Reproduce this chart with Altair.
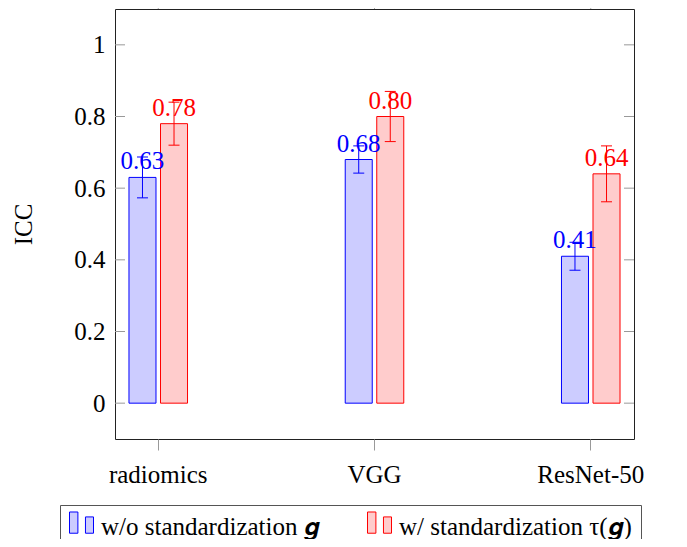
import altair as alt
import pandas as pd

categories = ["radiomics", "VGG", "ResNet-50"]
series = ["w/o standardization 𝒈", "w/ standardization τ(𝒈)"]
icc_wo = [0.63, 0.68, 0.41]
icc_w = [0.78, 0.80, 0.64]
err_wo = [0.057, 0.038, 0.039]
err_w = [0.060, 0.070, 0.078]
y_ticks = [0, 0.2, 0.4, 0.6, 0.8, 1]

rows = []
for i, c in enumerate(categories):
    rows.append(dict(cat=c, s=series[0], v=icc_wo[i], e=err_wo[i]))
    rows.append(dict(cat=c, s=series[1], v=icc_w[i], e=err_w[i]))
df = pd.DataFrame(rows)
df["lo"] = df["v"] - df["e"]
df["hi"] = df["v"] + df["e"]
cat_df = pd.DataFrame({"cat": categories})
tick_df = pd.DataFrame({"t": y_ticks})

FONT = "Liberation Serif"
FS = 25
W, H = 519, 430

x_scale = alt.Scale(domain=categories, paddingInner=0.6, paddingOuter=0.0)
xo_scale = alt.Scale(domain=series, paddingInner=0.143, paddingOuter=0.443)
y_scale = alt.Scale(domain=[-0.1, 1.1], nice=False, zero=False)
fill_scale = alt.Scale(domain=series, range=["#ccccff", "#ffcccc"])
stroke_scale = alt.Scale(domain=series, range=["#0000ff", "#ff0000"])

x_axis = alt.Axis(title=None, domain=False, grid=False, tickSize=11, tickColor="#999999",
                  labelFont=FONT, labelFontSize=FS, labelColor="black", labelPadding=12,
                  labelAngle=0)
y_axis = alt.Axis(title="ICC", values=y_ticks, ticks=False, domain=False, grid=False,
                  labelFont=FONT, labelFontSize=FS, labelColor="black", labelPadding=10,
                  labelExpr="datum.value == 0 ? '0' : datum.value == 1 ? '1' : format(datum.value, '.1f')",
                  titleFont=FONT, titleFontSize=FS, titleFontWeight="normal", titleColor="black",
                  titleX=-84, titleY=215, titleAngle=-90, titleBaseline="alphabetic")

def X():
    return alt.X("cat:N", scale=x_scale, sort=categories, axis=x_axis)

def XO():
    return alt.XOffset("s:N", scale=xo_scale, sort=series)

sym = "M-1,-1.23H-0.3V0.54H-1Z M0.33,-0.82H1V0.54H0.33Z"
legend = alt.Legend(title=None, orient="none", legendX=-55, legendY=496, direction="horizontal",
                    symbolType=sym, symbolSize=576, symbolStrokeWidth=1,
                    labelFont=FONT, labelFontSize=FS, labelColor="black", labelOffset=7,
                    labelLimit=500, padding=9, strokeColor="#555555", columnPadding=45)

base = alt.Chart(df)

bars = base.mark_bar(strokeWidth=1).encode(
    x=X(), xOffset=XO(),
    y=alt.Y("v:Q", scale=y_scale, axis=y_axis),
    y2=alt.datum(0),
    fill=alt.Fill("s:N", scale=fill_scale, sort=series, legend=legend),
    stroke=alt.Stroke("s:N", scale=stroke_scale, sort=series, legend=legend),
)

err = base.mark_rule(strokeWidth=1).encode(
    x=X(), xOffset=XO(),
    y=alt.Y("lo:Q", scale=y_scale, axis=y_axis), y2="hi:Q",
    color=alt.Color("s:N", scale=stroke_scale, legend=None),
)
cap_lo = base.mark_tick(thickness=1, size=11, opacity=1).encode(
    x=X(), xOffset=XO(),
    y=alt.Y("lo:Q", scale=y_scale, axis=y_axis),
    color=alt.Color("s:N", scale=stroke_scale, legend=None),
)
cap_hi = base.mark_tick(thickness=1, size=11, opacity=1).encode(
    x=X(), xOffset=XO(),
    y=alt.Y("hi:Q", scale=y_scale, axis=y_axis),
    color=alt.Color("s:N", scale=stroke_scale, legend=None),
)
labels = base.mark_text(dy=-8, baseline="alphabetic", font=FONT, fontSize=FS).encode(
    x=X(), xOffset=XO(),
    y=alt.Y("v:Q", scale=y_scale, axis=y_axis),
    text=alt.Text("v:Q", format=".2f"),
    color=alt.Color("s:N", scale=stroke_scale, legend=None),
)

top_ticks = alt.Chart(cat_df).mark_rule(color="#aaaaaa", strokeWidth=1).encode(
    x=X(), y=alt.value(-11), y2=alt.value(0)
)
left_ticks = alt.Chart(tick_df).mark_rule(color="#999999", strokeWidth=1).encode(
    y=alt.Y("t:Q", scale=y_scale, axis=y_axis), x=alt.value(0), x2=alt.value(10)
)
right_ticks = alt.Chart(tick_df).mark_rule(color="#999999", strokeWidth=1).encode(
    y=alt.Y("t:Q", scale=y_scale, axis=y_axis), x=alt.value(W - 10), x2=alt.value(W)
)

chart = alt.layer(bars, err, cap_lo, cap_hi, labels, top_ticks, left_ticks, right_ticks).properties(
    width=W, height=H,
    autosize=alt.AutoSizeParams(type="none"),
    padding={"left": 107, "top": 1, "right": 45, "bottom": 100},
    background="white",
).configure_view(stroke="#222222", strokeWidth=1)

chart.save("out.html", embed_options={"renderer": "svg", "actions": False})
